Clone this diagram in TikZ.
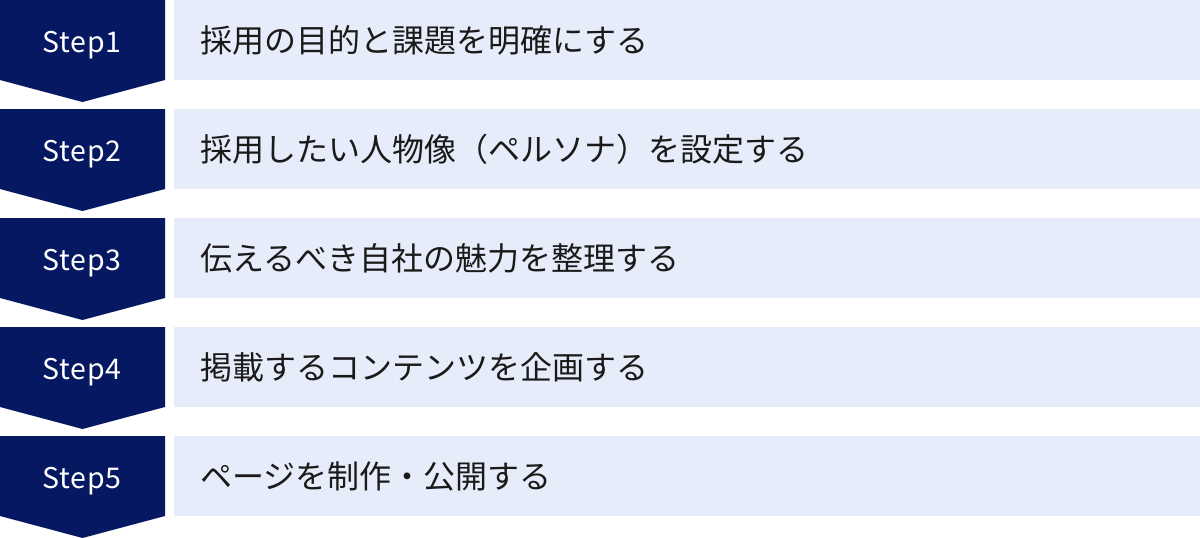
\documentclass[tikz,border=0pt]{standalone}
\usepackage{fontspec}
\setmainfont{Noto Sans CJK JP}
\newfontfamily\jpfont{Noto Sans CJK JP}
\newfontfamily\stepfont[LetterSpace=3]{Noto Sans CJK JP}
\definecolor{navy}{HTML}{061862}
\definecolor{barbg}{HTML}{E6ECF9}
\definecolor{txt}{HTML}{1A1A1A}
\begin{document}
\begin{tikzpicture}[x=1pt,y=-1pt,
  steplabel/.style={text=white,font=\stepfont\fontsize{28.5}{34}\selectfont,anchor=base,inner sep=0pt},
  barlabel/.style={text=txt,font=\jpfont\fontsize{32}{38}\selectfont,anchor=base west,inner sep=0pt},
  chev/.style={fill=navy,draw=none},
  bar/.style={fill=barbg,draw=none}]
\useasboundingbox (0,0) rectangle (1200,538);
\foreach \i/\t in {0/採用の目的と課題を明確にする,1/採用したい人物像（ペルソナ）を設定する,2/伝えるべき自社の魅力を整理する,3/掲載するコンテンツを企画する,4/ページを制作・公開する}{
  \pgfmathsetmacro{\yy}{\i*109}
  \fill[chev] (0,\yy) -- (165,\yy) -- (165,\yy+80) -- (82.5,\yy+102) -- (0,\yy+80) -- cycle;
  \fill[bar] (174,\yy) rectangle (1200,\yy+80);
  \pgfmathtruncatemacro{\n}{\i+1}
  \node[steplabel] (s\n) at (82,\yy+52.3) {Step\n};
  \node[barlabel] (t\n) at (200,\yy+52) {\t};
}
\end{tikzpicture}
\end{document}
